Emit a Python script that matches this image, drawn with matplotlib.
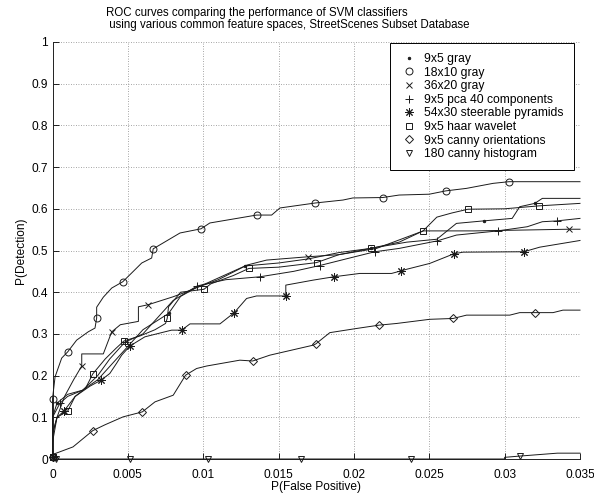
import matplotlib
matplotlib.use("Agg")
import matplotlib.pyplot as plt
from matplotlib.lines import Line2D

plt.rcParams['font.family'] = ['Liberation Sans', 'DejaVu Sans']

# ROC curves, one pair of lists per feature space: false positive rate, detection rate
labels = ['9x5 gray', '18x10 gray', '36x20 gray', '9x5 pca 40 components',
          '54x30 steerable pyramids', '9x5 haar wavelet', '9x5 canny orientations',
          '180 canny histogram']

gray9_fp = [0, 0, 0.0003, 0.001, 0.002, 0.003, 0.004, 0.005, 0.006, 0.0077, 0.0085, 0.0095,
            0.011, 0.0128, 0.015, 0.017, 0.019, 0.0211, 0.0235, 0.0255, 0.0268, 0.0286, 0.0305,
            0.031, 0.032, 0.0325, 0.035]
gray9_det = [0.005, 0.10, 0.134, 0.155, 0.165, 0.19, 0.23, 0.27, 0.31, 0.349, 0.39, 0.41,
             0.43, 0.463, 0.47, 0.48, 0.495, 0.505, 0.52, 0.527, 0.565, 0.571, 0.577,
             0.605, 0.613, 0.625, 0.625]

gray18_fp = [0, 0, 0.00017, 0.00061, 0.00101, 0.0016, 0.00237, 0.00282, 0.00293, 0.00293,
             0.00337, 0.00393, 0.00466, 0.00525, 0.00592, 0.00658, 0.00668, 0.00846, 0.00985,
             0.01044, 0.01354, 0.01454, 0.01509, 0.01745, 0.01927, 0.01993, 0.0219, 0.0230,
             0.0250, 0.0261, 0.02747, 0.02923, 0.03029, 0.035]
gray18_det = [0.005, 0.144, 0.197, 0.242, 0.257, 0.285, 0.305, 0.314, 0.338, 0.364,
              0.388, 0.410, 0.425, 0.446, 0.470, 0.482, 0.504, 0.542, 0.552,
              0.566, 0.585, 0.585, 0.602, 0.614, 0.621, 0.626, 0.627, 0.633,
              0.635, 0.643, 0.649, 0.661, 0.665, 0.665]

gray36_fp = [0, 0, 0.0003, 0.0008, 0.0014, 0.00194, 0.00194, 0.00337, 0.00393, 0.0045, 0.0057,
             0.0057, 0.00635, 0.008, 0.0089, 0.0102, 0.0129, 0.0142, 0.01696, 0.019, 0.0215,
             0.0246, 0.028, 0.03425, 0.035]
gray36_det = [0.005, 0.04, 0.10, 0.15, 0.19, 0.223, 0.252, 0.252, 0.305, 0.322, 0.33,
              0.365, 0.37, 0.389, 0.401, 0.421, 0.465, 0.477, 0.485, 0.49, 0.505,
              0.547, 0.547, 0.551, 0.551]

pca_fp = [0, 0, 0.0005, 0.001, 0.002, 0.003, 0.0038, 0.0048, 0.006, 0.007, 0.008, 0.0096,
          0.0115, 0.01377, 0.016, 0.01774, 0.0195, 0.02139, 0.023, 0.02552, 0.0268, 0.02956,
          0.0315, 0.0325, 0.03347, 0.035]
pca_det = [0.005, 0.10, 0.134, 0.15, 0.165, 0.2, 0.24, 0.28, 0.3, 0.34, 0.38, 0.415,
           0.43, 0.437, 0.45, 0.464, 0.48, 0.497, 0.505, 0.523, 0.537, 0.547,
           0.557, 0.569, 0.571, 0.577]

steer_fp = [0, 0, 0.0003, 0.00076, 0.0015, 0.0025, 0.00322, 0.0038, 0.00426, 0.00459, 0.00514,
            0.00613, 0.0079, 0.00857, 0.00912, 0.01111, 0.01206, 0.01288, 0.01354, 0.01548,
            0.01548, 0.0173, 0.01867, 0.02039, 0.0225, 0.02311, 0.0235, 0.02503, 0.02614,
            0.02662, 0.02724, 0.03127, 0.03233, 0.035]
steer_det = [0.005, 0.06, 0.10, 0.115, 0.150, 0.175, 0.189, 0.205, 0.230, 0.249, 0.271,
             0.293, 0.309, 0.309, 0.324, 0.324, 0.351, 0.385, 0.391, 0.391,
             0.417, 0.429, 0.437, 0.445, 0.445, 0.451, 0.455, 0.469, 0.485,
             0.492, 0.496, 0.497, 0.508, 0.524]

haar_fp = [0, 0, 0.0003, 0.00101, 0.0015, 0.0022, 0.00267, 0.0035, 0.0042, 0.00474, 0.0058,
           0.0068, 0.0075, 0.00761, 0.0077, 0.0085, 0.01005, 0.0105, 0.012, 0.01303, 0.015,
           0.01752, 0.019, 0.0211, 0.023, 0.02459, 0.0255, 0.0265, 0.02757, 0.03, 0.03226, 0.035]
haar_det = [0.005, 0.06, 0.10, 0.115, 0.15, 0.17, 0.204, 0.24, 0.265, 0.283, 0.295,
            0.31, 0.325, 0.337, 0.365, 0.40, 0.407, 0.42, 0.44, 0.457, 0.46,
            0.471, 0.49, 0.505, 0.52, 0.547, 0.58, 0.59, 0.599, 0.60, 0.607, 0.613]

cannyor_fp = [0, 0.0001, 0.00136, 0.00267, 0.00348, 0.00468, 0.00596, 0.0068, 0.00801, 0.00883,
              0.00956, 0.01023, 0.01243, 0.01328, 0.01442, 0.0173, 0.01747, 0.0184, 0.02017,
              0.02167, 0.02283, 0.02503, 0.02658, 0.02747, 0.03034, 0.031, 0.032, 0.03321,
              0.03387, 0.035]
cannyor_det = [0.005, 0.012, 0.029, 0.068, 0.082, 0.101, 0.113, 0.137, 0.153, 0.201,
               0.217, 0.223, 0.237, 0.235, 0.249, 0.273, 0.276, 0.303, 0.313,
               0.321, 0.325, 0.335, 0.337, 0.345, 0.345, 0.351, 0.351, 0.351,
               0.357, 0.357]

cannyhist_fp = [0, 0.0002, 0.00514, 0.01033, 0.0165, 0.0238, 0.030, 0.030, 0.031, 0.0335, 0.035]
cannyhist_det = [0, 0, 0, 0, 0, 0, 0, 0.004, 0.007, 0.014, 0.014]

curves = [(gray9_fp, gray9_det), (gray18_fp, gray18_det), (gray36_fp, gray36_det),
          (pca_fp, pca_det), (steer_fp, steer_det), (haar_fp, haar_det),
          (cannyor_fp, cannyor_det), (cannyhist_fp, cannyhist_det)]

# marker symbol, size and which points carry a marker
markers = ['.', 'o', 'x', '+', (8, 2, 0), 's', 'D', 'v']
msizes = [3.5, 5, 4, 6, 6, 4.5, 4.2, 5]
mark_idx = [[0, 2, 9, 13, 17, 21, 24],
            [0, 1, 4, 8, 12, 16, 18, 20, 23, 26, 29, 32],
            [0, 5, 8, 12, 18, 23],
            [0, 2, 7, 11, 13, 15, 17, 19, 21, 24],
            [0, 3, 6, 10, 13, 16, 19, 22, 25, 29, 31],
            [0, 3, 6, 9, 13, 16, 19, 21, 23, 25, 28, 30],
            [0, 3, 6, 9, 13, 16, 19, 22, 26],
            [1, 2, 3, 4, 5, 8]]

W, H = 594, 493
fig = plt.figure(figsize=(W / 100, H / 100), dpi=100)
ax = fig.add_axes([52.5 / W, 34 / H, 527.5 / W, 417 / H])

line_col = '#1a1a1a'


def face(m):
    # the point marker is drawn solid, all others hollow
    return line_col if m == '.' else 'none'


for (fp, det), m, ms, idx in zip(curves, markers, msizes, mark_idx):
    ax.plot(fp, det, color=line_col, lw=0.7, marker=m, ms=ms, markevery=idx,
            mfc=face(m), mec=line_col, mew=0.7, clip_on=False, zorder=3)

ax.set_xlim(0, 0.035)
ax.set_ylim(0, 1)
xt = [0, 0.005, 0.01, 0.015, 0.02, 0.025, 0.03, 0.035]
yt = [0, 0.1, 0.2, 0.3, 0.4, 0.5, 0.6, 0.7, 0.8, 0.9, 1]
ax.set_xticks(xt)
ax.set_xticklabels(['0', '0.005', '0.01', '0.015', '0.02', '0.025', '0.03', '0.035'])
ax.set_yticks(yt)
ax.set_yticklabels(['0', '0.1', '0.2', '0.3', '0.4', '0.5', '0.6', '0.7', '0.8', '0.9', '1'])
ax.tick_params(direction='in', length=4, width=0.6, labelsize=8.6)
ax.tick_params(axis='x', pad=7)
ax.grid(True, linestyle=(0, (1, 2)), color='#888888', lw=0.6)
ax.set_axisbelow(True)
for s in ['top', 'right']:
    ax.spines[s].set_visible(False)
for s in ['left', 'bottom']:
    ax.spines[s].set_linewidth(0.7)
    ax.spines[s].set_color('#222222')

ax.set_xlabel('P(False Positive)', fontsize=8.6, labelpad=0)
ax.set_ylabel('P(Detection)', fontsize=8.6, labelpad=3)

fig.text(106 / W, 1 - 7 / H,
         'ROC curves comparing the performance of SVM classifiers\n'
         ' using various common feature spaces, StreetScenes Subset Database',
         ha='left', va='top', fontsize=8.3, linespacing=1.05)

handles = [Line2D([], [], ls='none', marker=m, ms=ms, mfc=face(m), mec=line_col, mew=0.7,
                  color=line_col) for m, ms in zip(markers, msizes)]
leg = ax.legend(handles, labels, loc='upper right', bbox_to_anchor=(0.9886, 0.998),
                borderaxespad=0, fontsize=8.7, frameon=True, fancybox=False,
                framealpha=1, edgecolor='black', handlelength=1.5, handletextpad=0.5,
                labelspacing=0.13, borderpad=0.85)
leg.get_frame().set_linewidth(0.7)
leg.set_zorder(5)

fig.savefig('out.png', dpi=100)
